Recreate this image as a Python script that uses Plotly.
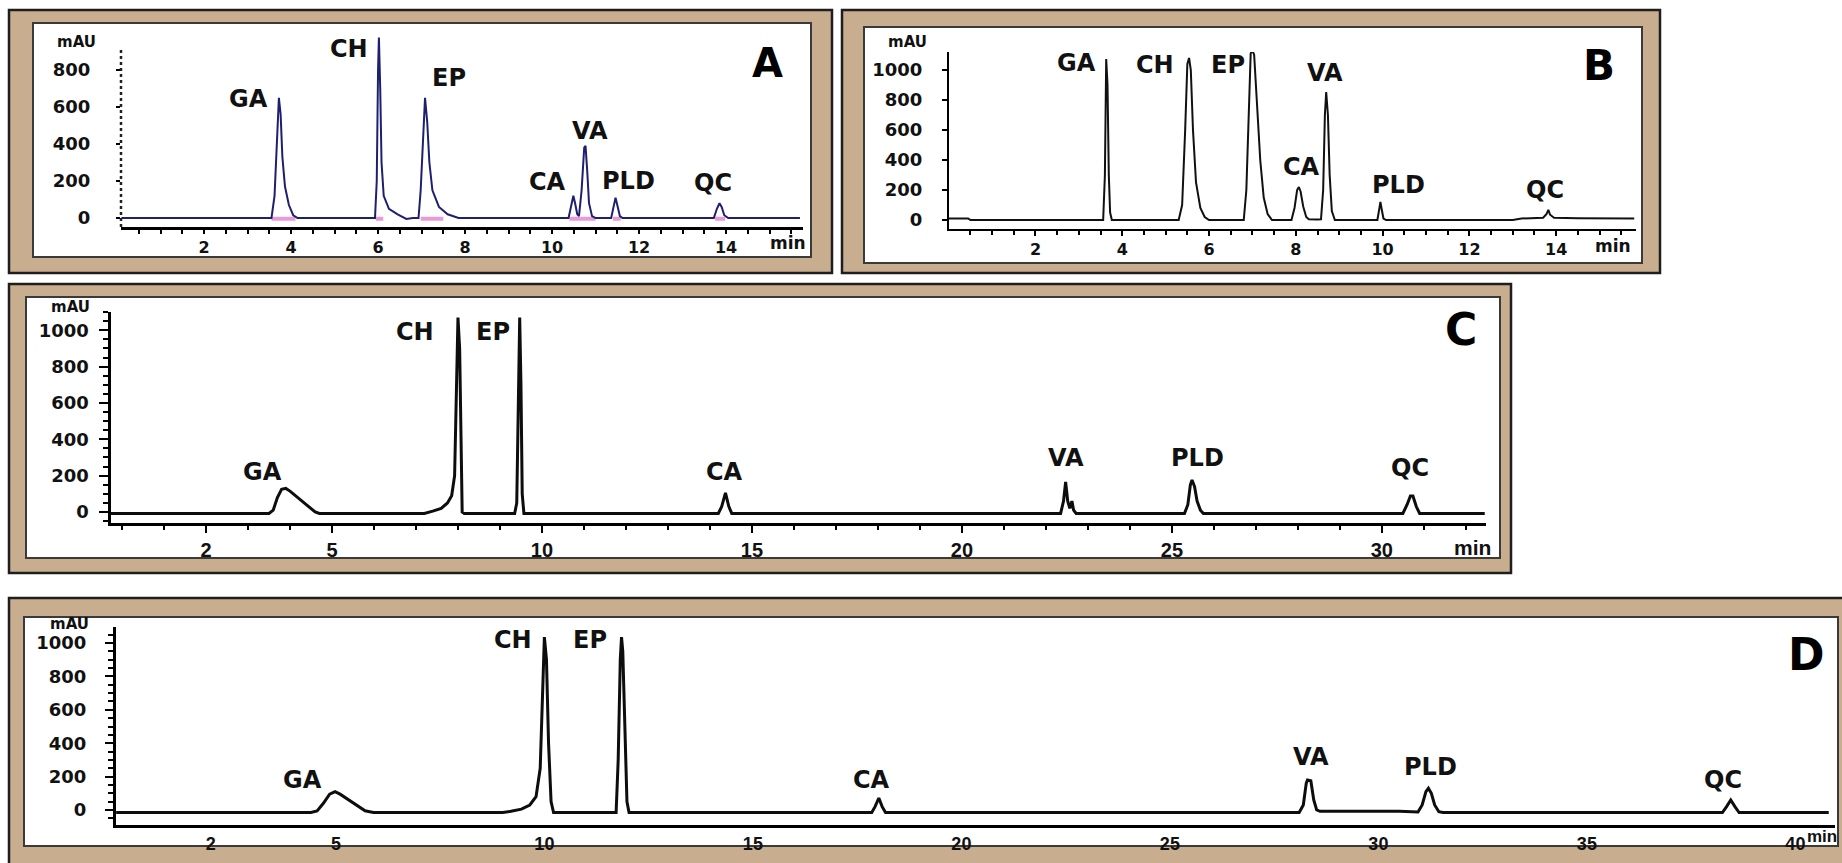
import plotly.graph_objects as go

W, H = 1842, 863

# ---------------- data ----------------
peak_names = ["GA", "CH", "EP", "CA", "VA", "PLD", "QC"]

# Panel A: retention time (min) / absorbance (mAU) trace vertices
A_time = [0.1,
          3.55, 3.62, 3.68, 3.72, 3.76, 3.80, 3.86, 3.95, 4.05, 4.15,
          5.93, 5.97, 6.0, 6.02, 6.05, 6.08, 6.13, 6.25, 6.45, 6.65, 6.8,
          6.93, 6.98, 7.03, 7.08, 7.13, 7.18, 7.25, 7.4, 7.6, 7.85,
          10.38, 10.45, 10.49, 10.53, 10.58, 10.62, 10.68, 10.74, 10.77, 10.81, 10.85, 10.92, 11.0,
          11.36, 11.42, 11.46, 11.5, 11.56, 11.62,
          13.72, 13.79, 13.85, 13.9, 13.96, 14.05,
          15.7]
A_mau = [0,
         0, 120, 480, 650, 560, 330, 170, 70, 15, 0,
         0, 200, 800, 975, 700, 300, 120, 50, 20, -5, 0,
         0, 150, 450, 650, 520, 300, 150, 60, 20, 0,
         0, 80, 120, 80, 20, 10, 150, 380, 390, 250, 80, 10, 0,
         0, 70, 110, 70, 10, 0,
         0, 50, 80, 60, 15, 0,
         0]
# integration baseline marks (start / end, min)
A_int_start = [3.55, 5.95, 6.98, 10.40, 11.40, 13.75]
A_int_end = [4.10, 6.12, 7.50, 11.00, 11.58, 13.98]

# Panel B
B_time = [0.0, 0.45, 0.5,
          3.56, 3.60, 3.63, 3.66, 3.69, 3.72, 3.76,
          5.3, 5.38, 5.45, 5.5, 5.54, 5.58, 5.63, 5.7, 5.8, 5.9, 6.0,
          6.8, 6.86, 6.92, 6.96, 7.0, 7.04, 7.1, 7.18, 7.26, 7.35, 7.45,
          7.9, 7.97, 8.03, 8.07, 8.11, 8.17, 8.24, 8.3,
          8.36, 8.42, 8.5, 8.58, 8.63, 8.67, 8.7, 8.74, 8.78, 8.83, 8.9,
          9.88, 9.92, 9.95, 9.98, 10.02, 10.08,
          13.0, 13.2, 13.5, 13.7, 13.78, 13.82, 13.86, 13.95, 14.5, 15.0, 15.8]
B_mau = [10, 10, 0,
         0, 300, 1073, 900, 300, 50, 0,
         0, 100, 600, 1040, 1080, 1000, 600, 250, 80, 20, 0,
         0, 200, 800, 1110, 1133, 1100, 800, 400, 150, 40, 0,
         0, 80, 200, 220, 190, 90, 20, 5,
         3, 3, 3, 5, 200, 700, 853, 700, 300, 60, 0,
         0, 80, 120, 70, 10, 0,
         0, 10, 12, 15, 40, 67, 35, 15, 12, 12, 10]

# Panel C
C_time = [-0.27,
          3.5, 3.6, 3.7, 3.8, 3.9, 4.0, 4.2, 4.4, 4.6, 4.7,
          7.2, 7.4, 7.6, 7.75, 7.85, 7.92, 7.96, 8.0, 8.04, 8.07, 8.1, 8.15,
          9.35, 9.4, 9.44, 9.47, 9.5, 9.53, 9.57,
          14.2, 14.28, 14.37, 14.45, 14.52,
          22.35, 22.42, 22.47, 22.52, 22.57, 22.62, 22.66, 22.72,
          25.3, 25.38, 25.44, 25.48, 25.54, 25.6, 25.68, 25.75,
          30.5, 30.6, 30.68, 30.74, 30.82, 30.9,
          32.45]
C_mau = [-8,
         -8, 10, 80, 125, 130, 115, 75, 35, 0, -8,
         -8, 5, 20, 50, 90, 200, 600, 1070, 900, 300, 0, -8,
         -8, 50, 600, 1070, 700, 100, -8,
         -8, 30, 105, 30, -8,
         -8, 60, 165, 60, 20, 60, 10, -8,
         -8, 40, 150, 176, 140, 60, 10, -8,
         -8, 40, 88, 88, 30, -8,
         -8]

# Panel D
D_time = [-0.27,
          4.4, 4.55, 4.7, 4.85, 4.98, 5.1, 5.3, 5.5, 5.7, 5.9,
          9.0, 9.2, 9.45, 9.65, 9.8, 9.9, 9.96, 10.0, 10.05, 10.1, 10.16, 10.22,
          11.72, 11.77, 11.82, 11.85, 11.88, 11.93, 11.98, 12.03,
          17.85, 17.93, 18.02, 18.1, 18.18,
          28.1, 28.2, 28.27, 28.3, 28.38, 28.45, 28.52, 28.6,
          30.5, 30.95, 31.05, 31.14, 31.2, 31.27, 31.35, 31.45, 31.55,
          38.25, 38.35, 38.45, 38.55, 38.65,
          40.8]
D_mau = [-15,
         -15, -5, 40, 95, 110, 95, 60, 25, -5, -15,
         -15, -8, 5, 30, 80, 250, 700, 1035, 900, 400, 50, -15,
         -15, 300, 900, 1035, 950, 400, 50, -15,
         -15, 20, 72, 20, -15,
         -15, 30, 160, 180, 175, 60, 0, -8,
         -8, -12, 30, 110, 130, 100, 30, -10, -15,
         -15, 20, 60, 20, -15,
         -15]

A_xticks = [2, 4, 6, 8, 10, 12, 14]
B_xticks = [2, 4, 6, 8, 10, 12, 14]
C_xticks = [2, 5, 10, 15, 20, 25, 30]
D_xticks = [2, 5, 10, 15, 20, 25, 30, 35, 40]
A_yticks = [0, 200, 400, 600, 800]
BCD_yticks = [0, 200, 400, 600, 800, 1000]

# ---------------- layout constants ----------------
TAN = "#c8ad8e"
EDGE = "#1e1e1e"
FONT = "DejaVu Sans, Verdana, Liberation Sans, sans-serif"
CFONT = "Liberation Sans Narrow, Liberation Sans, Arial, sans-serif"

def P(x, y):
    return x / W, 1 - y / H

panels = [
    dict(key="A", sfx="", t=A_time, v=A_mau, color="#1f1f70", lw=2,
         px=(121, 803), tr=(0.09, 15.77), py=(33, 227), vr=(-48.6, 1000),
         xt=A_xticks, yt=A_yticks, xminor=0.5, xfont=FONT, xsize=16, xlw=3, xlen=4,
         ylen=4, ystand=22, xstand=0, yline=False, ymax_line=919,
         labels=[(3.01, 643), (5.34, 913), (7.63, 757), (9.89, 195), (10.87, 470), (11.75, 200), (13.7, 189)],
         mau=(76, 42), mn=(807, 243), mnfont=FONT, mnsize=17, letter=(767, 63), lsize=40,
         outer=(9, 10, 832, 273), inner=(33, 23, 811, 257)),
    dict(key="B", sfx="2", t=B_time, v=B_mau, color="#111111", lw=2,
         px=(949, 1636), tr=(0.007, 15.84), py=(52, 229), vr=(-60, 1120),
         xt=B_xticks, yt=BCD_yticks, xminor=0.5, xfont=FONT, xsize=16, xlw=2, xlen=5,
         ylen=5, ystand=16, xstand=0, yline=True, ymax_line=None,
         labels=[(2.94, 1045), (4.75, 1033), (6.44, 1033), (8.14, 353), (8.68, 980), (10.37, 233), (13.74, 200)],
         mau=(907, 42), mn=(1632, 246), mnfont=FONT, mnsize=17, letter=(1599, 65), lsize=42,
         outer=(842, 10, 1660, 273), inner=(864, 27, 1642, 263)),
    dict(key="C", sfx="3", t=C_time, v=C_mau, color="#0d0d0d", lw=3,
         px=(110.5, 1486), tr=(-0.274, 32.48), py=(312, 523), vr=(-60.5, 1100.7),
         xt=C_xticks, yt=BCD_yticks, xminor=1, xfont=CFONT, xsize=20, xlw=3, xlen=7,
         ylen=9, ystand=6, xstand=0, yline=True, ymax_line=None,
         labels=[(3.35, 220), (6.98, 990), (8.83, 990), (14.35, 220), (22.48, 297), (25.6, 297), (30.67, 242)],
         mau=(70, 307), mn=(1492, 547), mnfont=CFONT, mnsize=21, letter=(1461, 330), lsize=44,
         outer=(9, 284, 1511, 573), inner=(26, 297, 1500, 558)),
    dict(key="D", sfx="4", t=D_time, v=D_mau, color="#0d0d0d", lw=3,
         px=(116, 1835), tr=(-0.273, 40.95), py=(627, 825), vr=(-89.8, 1095.8),
         xt=D_xticks, yt=BCD_yticks, xminor=None, xfont=CFONT, xsize=18, xlw=3, xlen=0,
         ylen=8, ystand=15, xstand=0, yline=True, ymax_line=None,
         labels=[(4.2, 180), (9.25, 1018), (11.1, 1018), (17.85, 180), (28.38, 317), (31.24, 257), (38.26, 180)],
         mau=(69, 624), mn=(1838, 836), mnfont=CFONT, mnsize=17, letter=(1806, 654), lsize=44,
         outer=(9, 598, 1860, 880), inner=(24, 617, 1838, 846)),
]

fig = go.Figure()
shapes = []
annotations = []
layout_axes = {}

for p in panels:
    sfx = p["sfx"]
    xa, ya = "x" + sfx, "y" + sfx
    # frames
    ox0, oy0, ox1, oy1 = p["outer"]
    ix0, iy0, ix1, iy1 = p["inner"]
    a0 = P(ox0, oy1); a1 = P(ox1, oy0)
    shapes.append(dict(type="rect", xref="paper", yref="paper", layer="below",
                       x0=a0[0], y0=a0[1], x1=a1[0], y1=a1[1],
                       fillcolor=TAN, line=dict(color=EDGE, width=2.5)))
    b0 = P(ix0, iy1); b1 = P(ix1, iy0)
    shapes.append(dict(type="rect", xref="paper", yref="paper", layer="below",
                       x0=b0[0], y0=b0[1], x1=b1[0], y1=b1[1],
                       fillcolor="white", line=dict(color="#3a3a3a", width=2)))

    if p["key"] == "A":
        xs, ys = [], []
        for s, e in zip(A_int_start, A_int_end):
            xs += [s, e, None]
            ys += [-4, -4, None]
        fig.add_trace(go.Scatter(x=xs, y=ys, xaxis=xa, yaxis=ya, mode="lines",
                                 line=dict(color="#e99ad8", width=4),
                                 showlegend=False, hoverinfo="skip"))
    fig.add_trace(go.Scatter(x=p["t"], y=p["v"], xaxis=xa, yaxis=ya, mode="lines",
                             line=dict(color=p["color"], width=p["lw"]),
                             showlegend=False, hoverinfo="skip"))

    xkey = "xaxis" + sfx
    ykey = "yaxis" + sfx
    xdict = dict(domain=[p["px"][0] / W, p["px"][1] / W], range=list(p["tr"]),
                 anchor=ya, showgrid=False, zeroline=False, showline=True,
                 linecolor="black", linewidth=p["xlw"], ticks="outside",
                 ticklen=p["xlen"], tickwidth=2, tickcolor="black",
                 tickmode="array", tickvals=p["xt"], ticktext=[str(v) for v in p["xt"]],
                 tickfont=dict(family=p["xfont"], size=p["xsize"], color="#111", weight="bold"),
                 ticklabelstandoff=p["xstand"], fixedrange=True)
    if p["xminor"]:
        xdict["minor"] = dict(ticks="outside", ticklen=4, tickwidth=1.5, tickcolor="black",
                              dtick=p["xminor"], tick0=0)
    ydict = dict(domain=[1 - p["py"][1] / H, 1 - p["py"][0] / H], range=list(p["vr"]),
                 anchor=xa, showgrid=False, zeroline=False, showline=p["yline"],
                 linecolor="black", linewidth=2 if p["key"] == "B" else 3,
                 ticks="outside", ticklen=p["ylen"], tickwidth=2, tickcolor="black",
                 tickmode="array", tickvals=p["yt"], ticktext=[str(v) for v in p["yt"]],
                 tickfont=dict(family=FONT, size=18, color="#111", weight="bold"),
                 ticklabelstandoff=p["ystand"], fixedrange=True)
    if p["key"] in ("C", "D"):
        ydict["minor"] = dict(ticks="outside", ticklen=5, tickwidth=1.5, tickcolor="black", dtick=50, tick0=0)
    layout_axes[xkey] = xdict
    layout_axes[ykey] = ydict

    if p["key"] == "A":
        shapes.append(dict(type="line", xref="x domain", yref="y", x0=0, x1=0,
                           y0=p["vr"][0], y1=p["ymax_line"],
                           line=dict(color="#222", width=2.5, dash="dot")))

    # peak labels
    for name, (lt, lv) in zip(peak_names, p["labels"]):
        annotations.append(dict(x=lt, y=lv, xref=xa, yref=ya, text="<b>%s</b>" % name,
                                showarrow=False, font=dict(family=FONT, size=24, color="#111"),
                                xanchor="center", yanchor="middle"))
    mx, my = P(*p["mau"])
    annotations.append(dict(x=mx, y=my, xref="paper", yref="paper", text="<b>mAU</b>",
                            showarrow=False, font=dict(family=FONT, size=15, color="#111"),
                            xanchor="center", yanchor="middle"))
    nx, ny = P(*p["mn"])
    annotations.append(dict(x=nx, y=ny, xref="paper", yref="paper", text="<b>min</b>",
                            showarrow=False, font=dict(family=p["mnfont"], size=p["mnsize"], color="#111"),
                            xanchor="right", yanchor="middle", borderpad=0))
    lx, ly = P(*p["letter"])
    annotations.append(dict(x=lx, y=ly, xref="paper", yref="paper", text="<b>%s</b>" % p["key"],
                            showarrow=False, font=dict(family=FONT, size=p["lsize"], color="#000"),
                            xanchor="center", yanchor="middle"))

fig.update_layout(width=W, height=H, autosize=False,
                  margin=dict(l=0, r=0, t=0, b=0, pad=0),
                  paper_bgcolor="white", plot_bgcolor="rgba(0,0,0,0)",
                  showlegend=False, shapes=shapes, annotations=annotations,
                  **layout_axes)

fig.write_html("out.html", config={"displayModeBar": False},
               post_script="document.documentElement.style.margin='0';"
                           "document.body.style.margin='0';"
                           "document.body.style.padding='0';"
                           "document.body.style.overflow='hidden';")
